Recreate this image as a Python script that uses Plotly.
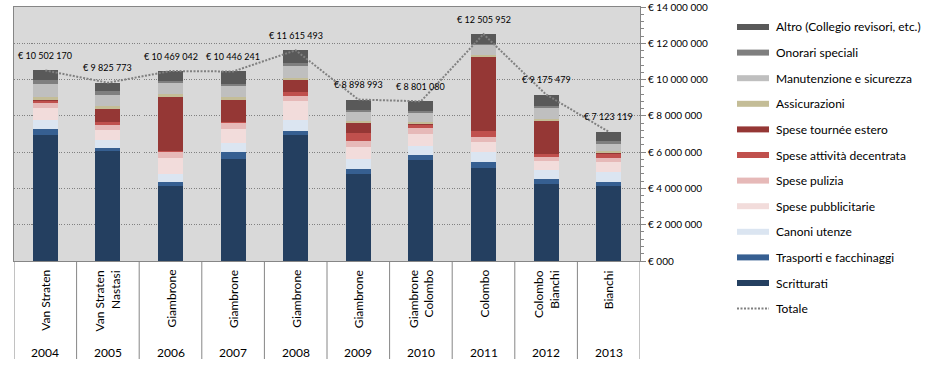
import plotly.graph_objects as go

years = ["2004", "2005", "2006", "2007", "2008", "2009", "2010", "2011", "2012", "2013"]
directors = ["Van Straten", "Van Straten<br>Nastasi", "Giambrone", "Giambrone", "Giambrone",
             "Giambrone", "Giambrone<br>Colombo", "Colombo", "Colombo<br>Bianchi", "Bianchi"]

scritturati = [6940000, 6060000, 4130000, 5620000, 6940000, 4790000, 5560000, 5140000, 4240000, 4140000]
trasporti = [330000, 160000, 220000, 380000, 220000, 270000, 280000, 330000, 270000, 210000]
canoni = [500000, 430000, 440000, 480000, 610000, 540000, 510000, 550000, 520000, 570000]
pubblicitarie = [660000, 570000, 900000, 790000, 1050000, 700000, 650000, 540000, 490000, 550000]
pulizia = [260000, 260000, 330000, 340000, 260000, 310000, 350000, 290000, 210000, 220000]
decentrata = [150000, 180000, 30000, 70000, 240000, 460000, 160000, 330000, 160000, 240000]
tournee = [50000, 720000, 2990000, 1200000, 640000, 540000, 60000, 4040000, 1830000, 40000]
assicurazioni = [150000, 150000, 170000, 140000, 150000, 110000, 90000, 110000, 130000, 70000]
manutenzione = [700000, 620000, 590000, 630000, 660000, 490000, 550000, 600000, 580000, 460000]
onorari = [220000, 240000, 110000, 110000, 170000, 130000, 80000, 40000, 120000, 110000]
altro = [542170, 435773, 559042, 686241, 675493, 558993, 511080, 535952, 625479, 513119]
totale = [10502170, 9825773, 10469042, 10446241, 11615493, 8898993, 8801080, 12505952, 9175479, 7123119]

series = [
    ("Scritturati", scritturati, "#243F60"),
    ("Trasporti e facchinaggi", trasporti, "#365F91"),
    ("Canoni utenze", canoni, "#DBE5F1"),
    ("Spese pubblicitarie", pubblicitarie, "#F2DCDB"),
    ("Spese pulizia", pulizia, "#E6B9B8"),
    ("Spese attività decentrata", decentrata, "#C0504D"),
    ("Spese tournée estero", tournee, "#953735"),
    ("Assicurazioni", assicurazioni, "#C4BD97"),
    ("Manutenzione e sicurezza", manutenzione, "#BFBFBF"),
    ("Onorari speciali", onorari, "#7F7F7F"),
    ("Altro (Collegio revisori, etc.)", altro, "#595959"),
]

ytickvals = [0, 2000000, 4000000, 6000000, 8000000, 10000000, 12000000, 14000000]
yticktext = ["€ 000", "€ 2 000 000", "€ 4 000 000", "€ 6 000 000", "€ 8 000 000",
             "€ 10 000 000", "€ 12 000 000", "€ 14 000 000"]

FONT = "Lato"
TOTAL_DASH = "2px,1.5px"
fig = go.Figure()
for name, vals, col in series:
    fig.add_trace(go.Bar(x=years, y=vals, name=name, marker=dict(color=col, line=dict(width=0)),
                         showlegend=False))
fig.add_trace(go.Scatter(x=years, y=totale, name="Totale", mode="lines",
                         line=dict(color="#808080", width=2, dash=TOTAL_DASH), showlegend=False))


def fmt(v):
    return "€ " + f"{v:,}".replace(",", " ")


annotations = []
for i, t in enumerate(totale):
    annotations.append(dict(x=i, y=t, xref="x", yref="y", text=fmt(t), showarrow=False,
                            yshift=15, font=dict(family=FONT, size=9, color="#000000")))

L, R, T, B = 14, 640, 7, 261
H = B - T
W = R - L


def py(p):
    return (B - p) / H


def px(p):
    return (p - L) / W


for i, (yr, d) in enumerate(zip(years, directors)):
    annotations.append(dict(x=i, y=py(268), xref="x", yref="paper", text=d, showarrow=False,
                            textangle=-90, yanchor="top", xanchor="center", align="right",
                            font=dict(family=FONT, size=12, color="#000000")))
    annotations.append(dict(x=i, y=py(352), xref="x", yref="paper", text=yr, showarrow=False,
                            yanchor="middle", xanchor="center",
                            font=dict(family=FONT, size=12, color="#000000")))

shapes = []
for i in range(len(years) + 1):
    shapes.append(dict(type="line", xref="x", yref="paper", x0=i - 0.5, x1=i - 0.5,
                       y0=0, y1=py(359), line=dict(color="#868686", width=1)))

# manual legend
legend_items = [(n, c) for n, v, c in series][::-1]
for i, (n, c) in enumerate(legend_items):
    yc = 27 + 25.6 * i
    shapes.append(dict(type="rect", xref="paper", yref="paper", x0=px(737), x1=px(769),
                       y0=py(yc + 3), y1=py(yc - 3), fillcolor=c, line=dict(width=0)))
    annotations.append(dict(x=px(774), y=py(yc), xref="paper", yref="paper", text=n,
                            showarrow=False, xanchor="left", yanchor="middle",
                            font=dict(family=FONT, size=12, color="#000000")))
yc = 27 + 25.6 * len(legend_items)
shapes.append(dict(type="line", xref="paper", yref="paper", x0=px(737), x1=px(769),
                   y0=py(yc), y1=py(yc), line=dict(color="#808080", width=2, dash=TOTAL_DASH)))
annotations.append(dict(x=px(774), y=py(yc), xref="paper", yref="paper", text="Totale",
                        showarrow=False, xanchor="left", yanchor="middle",
                        font=dict(family=FONT, size=12, color="#000000")))

fig.update_layout(
    width=952, height=380,
    margin=dict(l=L, r=952 - R, t=T, b=380 - B, autoexpand=False),
    barmode="stack", bargap=0.6,
    plot_bgcolor="#D9D9D9", paper_bgcolor="#FFFFFF",
    font=dict(family=FONT, size=10, color="#000000"),
    annotations=annotations, shapes=shapes,
    xaxis=dict(type="category", showticklabels=False, ticks="", showgrid=False,
               showline=True, mirror=True, linecolor="#868686", linewidth=1,
               range=[-0.5, 9.5], automargin=False),
    yaxis=dict(side="right", range=[0, 14000000], tickvals=ytickvals, ticktext=yticktext,
               showgrid=True, gridcolor="#808080", griddash="1px,1.5px", gridwidth=1,
               showline=True, mirror=True, linecolor="#868686", linewidth=1,
               ticks="outside", ticklen=5, tickcolor="#868686", zeroline=False,
               automargin=False,
               tickfont=dict(family=FONT, size=10, color="#000000"),
               minor=dict(ticks="outside", ticklen=3, dtick=400000, tickcolor="#868686",
                          showgrid=False)),
)

fig.write_html("out.html", config={"displayModeBar": False},
               post_script="document.body.style.margin='0';")
